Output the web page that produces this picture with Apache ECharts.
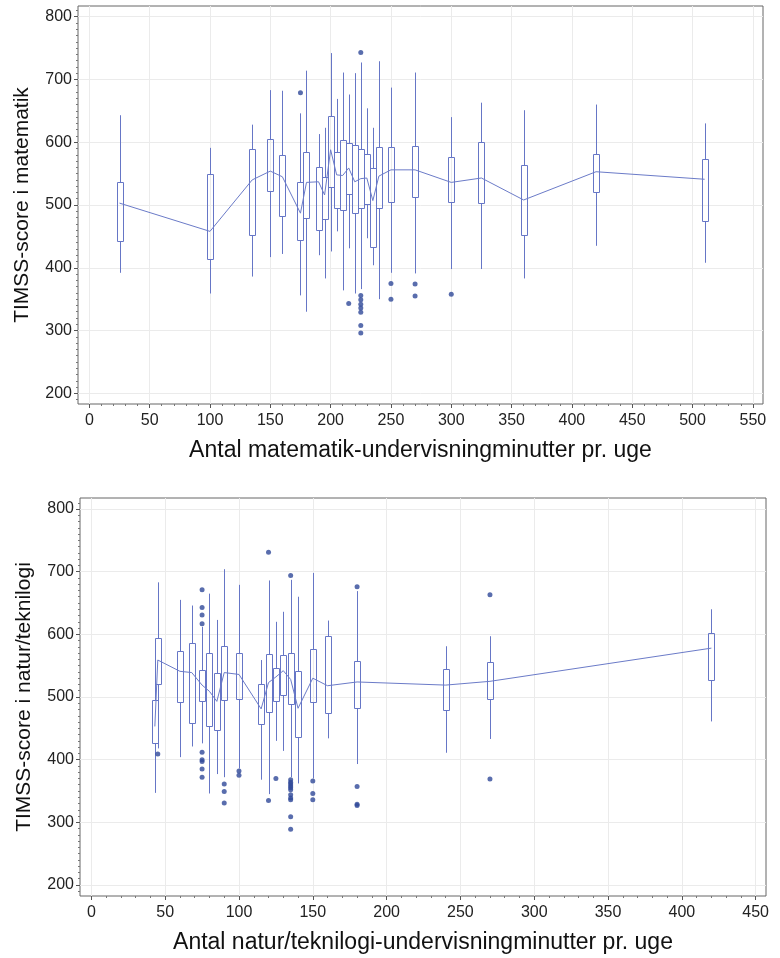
<!DOCTYPE html>
<html>
<head>
<meta charset="utf-8">
<script src="https://cdn.jsdelivr.net/npm/echarts@6/dist/echarts.min.js"></script>
<style>
  html, body { margin: 0; padding: 0; background: #fff; }
  #chart { width: 780px; height: 958px; }
</style>
</head>
<body>
<div id="chart"></div>
<script>
// ---- Mathematics: score distribution per weekly teaching minutes ----
const mathMinutes   = [25, 100, 135, 150, 160, 175, 180, 190, 195, 200, 205, 210, 215, 220, 225, 230, 235, 240, 250, 270, 300, 325, 360, 420, 510];
const mathLow       = [392, 359, 386, 417, 422, 356, 330, 420, 383, 426, 458, 364, 431, 359, 366, 447, 404, 350, 392, 391, 398, 398, 383, 435, 408];
const mathQ1        = [442, 414, 453, 522, 482, 444, 479, 460, 477, 529, 496, 492, 517, 488, 495, 502, 433, 495, 505, 512, 504, 503, 453, 520, 474];
const mathQ3        = [537, 550, 590, 605, 580, 536, 585, 560, 544, 641, 585, 604, 598, 595, 589, 581, 559, 592, 592, 594, 576, 600, 563, 582, 573];
const mathHigh      = [643, 591, 628, 683, 682, 646, 714, 613, 623, 742, 669, 711, 676, 710, 727, 654, 623, 729, 687, 711, 640, 663, 651, 660, 630];
const mathMean      = [503, 458, 540, 554, 545, 487, 536, 537, 516, 588, 548, 547, 559, 537, 542, 543, 507, 546, 556, 556, 536, 543, 508, 553, 541];
const mathOutliers  = [
  [175, 679], [215, 343], [225, 743], [225, 356], [225, 349], [225, 342], [225, 336],
  [225, 329], [225, 308], [225, 296], [250, 375], [250, 350], [270, 374], [270, 355], [300, 358]
];

// ---- Science/technology: score distribution per weekly teaching minutes ----
const sciMinutes    = [43, 45, 60, 68, 75, 80, 85, 90, 100, 115, 120, 125, 130, 135, 140, 150, 160, 180, 240, 270, 420];
const sciLow        = [347, 418, 404, 421, 426, 346, 377, 372, 386, 368, 345, 430, 414, 372, 362, 370, 434, 393, 411, 433, 461];
const sciQ1         = [427, 521, 492, 458, 494, 453, 447, 495, 497, 457, 476, 494, 503, 489, 436, 492, 474, 483, 479, 497, 527];
const sciQ3         = [495, 594, 573, 586, 543, 570, 538, 581, 570, 521, 568, 546, 567, 570, 542, 576, 597, 558, 545, 556, 602];
const sciHigh       = [522, 683, 655, 646, 612, 665, 623, 704, 679, 559, 686, 620, 636, 687, 660, 698, 622, 669, 581, 597, 640];
const sciMean       = [453, 559, 541, 539, 519, 509, 493, 539, 536, 481, 523, 532, 542, 528, 482, 530, 518, 524, 519, 525, 578];
const sciOutliers   = [
  [45, 409], [75, 671], [75, 643], [75, 631], [75, 617], [75, 412], [75, 400], [75, 397], [75, 385], [75, 372],
  [90, 361], [90, 349], [90, 331], [100, 382], [100, 375], [120, 731], [120, 335], [125, 370],
  [135, 694], [135, 368], [135, 364], [135, 361], [135, 358], [135, 355], [135, 352], [135, 344], [135, 339],
  [135, 336], [135, 309], [135, 289], [150, 366], [150, 346], [150, 336],
  [180, 676], [180, 357], [180, 329], [180, 327], [270, 663], [270, 369]
];

// ---- Axis ticks and titles ----
const scoreTicks    = [200, 300, 400, 500, 600, 700, 800];
const mathXTicks    = [0, 50, 100, 150, 200, 250, 300, 350, 400, 450, 500, 550];
const sciXTicks     = [0, 50, 100, 150, 200, 250, 300, 350, 400, 450];
const mathXTitle    = 'Antal matematik-undervisningminutter pr. uge';
const mathYTitle    = 'TIMSS-score i matematik';
const sciXTitle     = 'Antal natur/teknilogi-undervisningminutter pr. uge';
const sciYTitle     = 'TIMSS-score i natur/teknilogi';

const FONT = '"Liberation Sans", Arial, sans-serif';
const BOX_COLOR = '#6676c6';
const LINE_COLOR = '#6b7bc8';
const DOT_COLOR = '#2f4899';
const GRID_COLOR = '#ebebeb';

function boxRows(minutes, low, q1, q3, high) {
  return minutes.map((m, i) => [m, low[i], q1[i], q3[i], high[i]]);
}
function meanRows(minutes, mean) {
  return minutes.map((m, i) => [m, mean[i]]);
}

// Open box with plain whiskers (no caps), drawn through the axis scales
function renderBox(params, api) {
  const x = api.value(0);
  const pLow = api.coord([x, api.value(1)]);
  const pQ1 = api.coord([x, api.value(2)]);
  const pQ3 = api.coord([x, api.value(3)]);
  const pHigh = api.coord([x, api.value(4)]);
  const cx = Math.round(pLow[0]) + 0.5;
  const half = 3;
  const style = { stroke: BOX_COLOR, lineWidth: 1, fill: 'none' };
  const yQ3 = Math.round(pQ3[1]) + 0.5;
  const yQ1 = Math.round(pQ1[1]) + 0.5;
  return {
    type: 'group',
    children: [
      { type: 'line', shape: { x1: cx, y1: pHigh[1], x2: cx, y2: yQ3 }, style },
      { type: 'line', shape: { x1: cx, y1: yQ1, x2: cx, y2: pLow[1] }, style },
      { type: 'rect', shape: { x: cx - half, y: yQ3, width: half * 2, height: yQ1 - yQ3 }, style }
    ]
  };
}

function xAxis(gridIndex, min, max, ticks, title) {
  return {
    type: 'value', gridIndex, min, max, minInterval: 50, maxInterval: 50,
    name: title, nameLocation: 'middle', nameGap: 35,
    nameTextStyle: { fontSize: 23, color: '#111', fontFamily: FONT },
    axisLine: { show: false, onZero: false },
    axisTick: { show: true, length: 4, customValues: ticks, lineStyle: { color: '#555' } },
    minorTick: { show: true, splitNumber: 5, length: 2, lineStyle: { color: '#777' } },
    axisLabel: { customValues: ticks, fontSize: 16, color: '#222', margin: 9, fontFamily: FONT },
    splitLine: { show: true, lineStyle: { color: GRID_COLOR, width: 1 } },
    minorSplitLine: { show: false }
  };
}

function yAxis(gridIndex, min, max, title) {
  return {
    type: 'value', gridIndex, min, max, minInterval: 100, maxInterval: 100,
    name: title, nameLocation: 'middle', nameGap: 45,
    nameTextStyle: { fontSize: 21, color: '#111', fontFamily: FONT },
    axisLine: { show: false, onZero: false },
    axisTick: { show: true, length: 4, customValues: scoreTicks, lineStyle: { color: '#555' } },
    minorTick: { show: true, splitNumber: 10, length: 2, lineStyle: { color: '#777' } },
    axisLabel: { customValues: scoreTicks, fontSize: 16, color: '#222', margin: 6, fontFamily: FONT },
    splitLine: { show: true, lineStyle: { color: GRID_COLOR, width: 1 } },
    minorSplitLine: { show: false }
  };
}

function panelSeries(idx, rows, means, outliers) {
  return [
    {
      type: 'custom', xAxisIndex: idx, yAxisIndex: idx, renderItem: renderBox,
      data: rows, encode: { x: 0, y: [1, 2, 3, 4] }, clip: true, silent: true
    },
    {
      type: 'line', xAxisIndex: idx, yAxisIndex: idx, data: means, symbol: 'none',
      lineStyle: { color: LINE_COLOR, width: 1 }, silent: true
    },
    {
      type: 'scatter', xAxisIndex: idx, yAxisIndex: idx, data: outliers, symbol: 'circle',
      symbolSize: 5, itemStyle: { color: DOT_COLOR }, silent: true
    }
  ];
}

const chart = echarts.init(document.getElementById('chart'), null, { renderer: 'canvas' });
chart.setOption({
  animation: false,
  backgroundColor: '#fff',
  textStyle: { fontFamily: FONT },
  grid: [
    { left: 78, top: 6, width: 685, height: 398, show: true, borderColor: '#666', borderWidth: 1, backgroundColor: 'transparent' },
    { left: 80, top: 498, width: 686, height: 398, show: true, borderColor: '#666', borderWidth: 1, backgroundColor: 'transparent' }
  ],
  xAxis: [
    xAxis(0, -9.4, 558.4, mathXTicks, mathXTitle),
    xAxis(1, -7.7, 457, sciXTicks, sciXTitle)
  ],
  yAxis: [
    yAxis(0, 183, 817, mathYTitle),
    yAxis(1, 182.4, 817.6, sciYTitle)
  ],
  series: [
    ...panelSeries(0, boxRows(mathMinutes, mathLow, mathQ1, mathQ3, mathHigh), meanRows(mathMinutes, mathMean), mathOutliers),
    ...panelSeries(1, boxRows(sciMinutes, sciLow, sciQ1, sciQ3, sciHigh), meanRows(sciMinutes, sciMean), sciOutliers)
  ]
});
</script>
</body>
</html>
